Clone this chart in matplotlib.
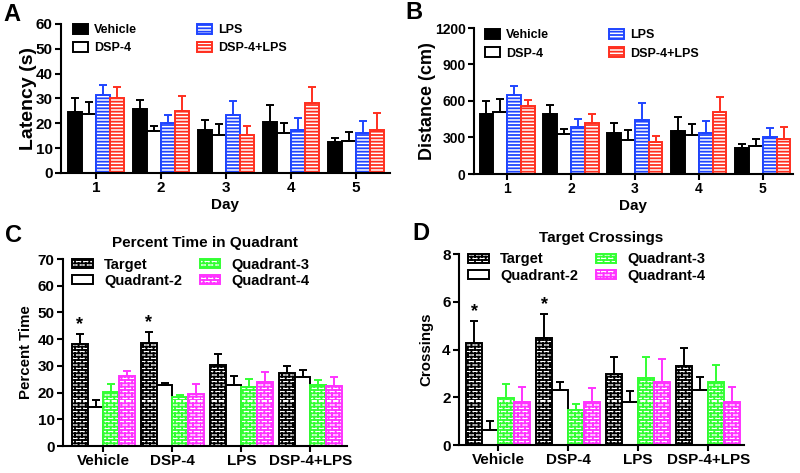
import warnings
import numpy as np
import matplotlib
matplotlib.use('Agg')
import matplotlib.pyplot as plt
import matplotlib.hatch as mhatch
from matplotlib.path import Path

warnings.filterwarnings('ignore')

# ---- data ----
days = ['1', '2', '3', '4', '5']
treat = ['Vehicle', 'DSP-4', 'LPS', 'DSP-4+LPS']
quads = ['Target', 'Quadrant-2', 'Quadrant-3', 'Quadrant-4']

# A: latency (s), mean and SEM (upper bar only)
lat_veh = [24.5, 25.8, 17.5, 20.7, 12.4]
lat_veh_err = [5.5, 3.7, 3.7, 6.6, 1.6]
lat_dsp = [23.8, 17.0, 15.5, 16.3, 13.0]
lat_dsp_err = [4.6, 2.0, 4.2, 3.9, 3.5]
lat_lps = [31.3, 20.2, 23.2, 17.5, 16.3]
lat_lps_err = [4.0, 3.0, 5.8, 4.5, 4.7]
lat_both = [30.3, 25.0, 15.3, 28.0, 17.4]
lat_both_err = [4.2, 6.2, 3.7, 6.7, 6.9]

# B: distance (cm)
dist_veh = [494, 492, 333, 350, 217]
dist_veh_err = [109, 75, 84, 122, 33]
dist_dsp = [511, 328, 281, 322, 228]
dist_dsp_err = [103, 44, 80, 86, 58]
dist_lps = [647, 389, 447, 333, 300]
dist_lps_err = [78, 67, 134, 100, 78]
dist_both = [556, 419, 264, 508, 286]
dist_both_err = [52, 75, 50, 128, 100]

# C: percent time in quadrant (per treatment group)
pct_target = [38.0, 38.7, 30.5, 27.5]
pct_target_err = [4.1, 3.8, 3.8, 2.6]
pct_q2 = [14.7, 22.7, 22.8, 26.0]
pct_q2_err = [2.5, 1.0, 3.4, 2.5]
pct_q3 = [20.3, 18.3, 22.1, 23.0]
pct_q3_err = [3.0, 0.7, 2.9, 1.6]
pct_q4 = [26.2, 19.3, 23.8, 22.4]
pct_q4_err = [1.8, 3.8, 3.8, 3.6]

# D: target crossings
cross_target = [4.29, 4.47, 2.97, 3.31]
cross_target_err = [0.92, 1.00, 0.71, 0.74]
cross_q2 = [0.61, 2.30, 1.79, 2.30]
cross_q2_err = [0.38, 0.35, 0.49, 0.53]
cross_q3 = [1.98, 1.47, 2.79, 2.63]
cross_q3_err = [0.59, 0.25, 0.91, 0.71]
cross_q4 = [1.80, 1.80, 2.63, 1.80]
cross_q4_err = [0.64, 0.57, 0.96, 0.63]

signif = [True, True, False, False]  # asterisk over Target bar


# brick hatch ('b'), like the Prism fill pattern
class BrickHatch(mhatch.HatchPatternBase):
    rows = 30
    cols = 14

    def __init__(self, hatch, density):
        n = self.rows * (self.cols + 1) if 'b' in hatch else 0
        self.num_lines = n
        self.num_vertices = 2 * n

    def set_vertices_and_codes(self, vertices, codes):
        h = 1.0 / self.rows
        w = 1.0 / self.cols
        segs = []
        for r in range(self.rows):
            y = r * h
            segs.append([(0, y), (1, y)])
            off = 0 if r % 2 == 0 else w / 2
            for c in range(self.cols):
                x = off + c * w
                segs.append([(x, y), (x, y + h)])
        vertices[:] = np.array(segs, dtype=float).reshape(-1, 2)
        codes[0::2] = Path.MOVETO
        codes[1::2] = Path.LINETO


mhatch._hatch_types.append(BrickHatch)

plt.rcParams['font.family'] = ['Liberation Sans', 'DejaVu Sans']
plt.rcParams['font.weight'] = 'bold'
plt.rcParams['axes.labelweight'] = 'bold'
plt.rcParams['axes.titleweight'] = 'bold'
plt.rcParams['hatch.linewidth'] = 1.3

BLUE = '#1f45ff'
RED = '#ff2f1f'
GREEN = '#33ff33'
MAGENTA = '#ff33ff'

W, H = 800, 473
fig = plt.figure(figsize=(8, 4.73), dpi=100)


def make_ax(l, r, t, b):
    ax = fig.add_axes([l / W, 1 - b / H, (r - l) / W, (b - t) / H])
    for s in ['top', 'right']:
        ax.spines[s].set_visible(False)
    for s in ['left', 'bottom']:
        ax.spines[s].set_linewidth(1.5)
    return ax


def grouped(ax, means, errs, styles, labels, width):
    n = len(means[0])
    x = np.arange(n)
    handles = []
    for i, (m, e, st) in enumerate(zip(means, errs, styles)):
        xi = x + (i - 1.5) * width
        face, edge, hatch = st
        bc = ax.bar(xi, m, width, color=face, edgecolor=edge, hatch=hatch,
                    linewidth=1.4, label=labels[i], zorder=2)
        ax.errorbar(xi, m, yerr=[np.zeros(n), e], fmt='none', ecolor=edge,
                    elinewidth=1.4, capsize=3.2, capthick=1.4, zorder=3)
        handles.append(bc)
    return x, handles


# ---- A ----
axA = make_ax(61, 390, 24, 173)
stylesAB = [('black', 'black', None), ('white', 'black', None),
            ('white', BLUE, '-----'), ('white', RED, '-----')]
x, hA = grouped(axA, [lat_veh, lat_dsp, lat_lps, lat_both],
                [lat_veh_err, lat_dsp_err, lat_lps_err, lat_both_err],
                stylesAB, treat, 0.215)
axA.set_xlim(0.464 - 1, 4.52)
axA.set_ylim(0, 60)
axA.set_yticks(range(0, 61, 10))
axA.set_xticks(x)
axA.set_xticklabels(days)
axA.set_xlabel('Day', fontsize=11, labelpad=2)
axA.set_ylabel('Latency (s)', fontsize=14)
axA.yaxis.set_label_coords(-0.073, 0.5)
axA.tick_params(direction='out', length=4, width=1.5, labelsize=11, pad=2)
axA.legend(handles=hA, ncol=2, loc='upper left', bbox_to_anchor=(0.036, 1.0),
           frameon=False, fontsize=9, handlelength=1.2, handleheight=0.8,
           handletextpad=0.5, columnspacing=4.8, labelspacing=0.5,
           borderpad=0, borderaxespad=0)

# ---- B ----
axB = make_ax(474, 793, 28, 174)
x, hB = grouped(axB, [dist_veh, dist_dsp, dist_lps, dist_both],
                [dist_veh_err, dist_dsp_err, dist_lps_err, dist_both_err],
                stylesAB, treat, 0.215)
axB.set_xlim(0.484 - 1, 4.47)
axB.set_ylim(0, 1200)
axB.set_yticks(range(0, 1201, 300))
axB.set_xticks(x)
axB.set_xticklabels(days)
axB.set_xlabel('Day', fontsize=11, labelpad=2)
axB.set_ylabel('Distance (cm)', fontsize=13)
axB.yaxis.set_label_coords(-0.119, 0.5)
axB.tick_params(direction='out', length=4, width=1.5, labelsize=10, pad=2)
axB.legend(handles=hB, ncol=2, loc='upper left', bbox_to_anchor=(0.033, 0.993),
           frameon=False, fontsize=9, handlelength=1.2, handleheight=0.8,
           handletextpad=0.5, columnspacing=4.8, labelspacing=0.5,
           borderpad=0, borderaxespad=0)

# ---- C / D ----
stylesCD = [('white', 'black', 'b'), ('white', 'black', None),
            ('white', GREEN, 'b'), ('white', MAGENTA, 'b')]


def quad_panel(ax, means, errs, ymax, yticks, ylabel, title, lab_x, xleft, xright):
    x, hs = grouped(ax, means, errs, stylesCD, quads, 0.228)
    ax.set_xlim(xleft, xright)
    ax.set_ylim(0, ymax)
    ax.set_yticks(yticks)
    ax.set_xticks(x)
    ax.set_xticklabels(treat)
    ax.set_ylabel(ylabel, fontsize=10.8)
    ax.yaxis.set_label_coords(lab_x, 0.5)
    ax.set_title(title, fontsize=11, pad=9)
    ax.tick_params(direction='out', length=4, width=1.5, labelsize=11, pad=2)
    tx = x - 1.5 * 0.228
    for xi, m, e, s in zip(tx, means[0], errs[0], signif):
        if s:
            ax.text(xi, m + e + ymax * 0.005, '*', ha='center', va='bottom',
                    fontsize=13)
    ax.legend(handles=hs, ncol=2, loc='upper left', bbox_to_anchor=(0.032, 1.008),
              frameon=False, fontsize=10.5, handlelength=1.4, handleheight=0.55,
              handletextpad=0.8, columnspacing=1.2, labelspacing=0.15,
              borderpad=0, borderaxespad=0)


axC = make_ax(63, 347, 259, 446)
quad_panel(axC, [pct_target, pct_q2, pct_q3, pct_q4],
           [pct_target_err, pct_q2_err, pct_q3_err, pct_q4_err],
           70, range(0, 71, 10), 'Percent Time', 'Percent Time in Quadrant',
           -0.106, -0.587, 3.53)

axD = make_ax(459, 744, 254, 445)
quad_panel(axD, [cross_target, cross_q2, cross_q3, cross_q4],
           [cross_target_err, cross_q2_err, cross_q3_err, cross_q4_err],
           8, range(0, 9, 2), 'Crossings', 'Target Crossings',
           -0.091, -0.557, 3.51)

# panel letters
for lx, ly, s in [(3, 3, 'A'), (405, 1, 'B'), (5, 224, 'C'), (412, 222, 'D')]:
    fig.text(lx / W, 1 - ly / H, s, fontsize=17, fontweight='bold', va='top', ha='left')

fig.savefig('out.png', dpi=100)
